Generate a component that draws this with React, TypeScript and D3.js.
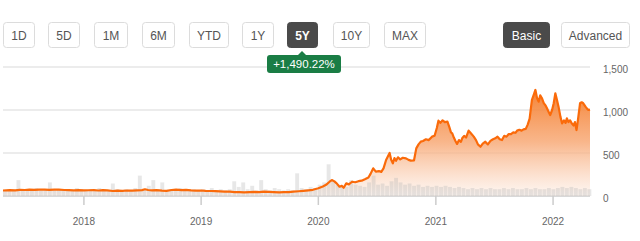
import React from "react";
import * as d3 from "d3";

const rangeButtons = ["1D", "5D", "1M", "6M", "YTD", "1Y", "5Y", "10Y", "MAX"];
const rangeButtonX = [3, 48, 94, 142, 189, 242, 287, 333, 384];
const rangeButtonW = [31, 31, 33, 32, 39, 31, 30, 36, 41];
const activeRange = "5Y";
const modeButtons = ["Basic", "Advanced"];
const modeButtonX = [503, 561];
const modeButtonW = [46, 68];
const activeMode = "Basic";
const changeLabel = "+1,490.22%";

const yTicks = [0, 500, 1000, 1500];
const yTickLabels = ["0", "500", "1,000", "1,500"];
const xTickYears = ["2018", "2019", "2020", "2021", "2022"];

const priceDates = [
  "2017-04-24","2017-05-15","2017-06-01","2017-06-15","2017-07-01","2017-07-15","2017-08-01","2017-08-15","2017-09-01","2017-09-15",
  "2017-10-01","2017-10-15","2017-11-01","2017-11-15","2017-12-01","2017-12-15","2018-01-01","2018-01-15","2018-02-01","2018-02-15",
  "2018-03-01","2018-03-15","2018-04-01","2018-04-15","2018-05-01","2018-05-15","2018-06-01","2018-06-15","2018-07-01","2018-07-10",
  "2018-07-20","2018-08-01","2018-08-15","2018-09-01","2018-09-15","2018-10-01","2018-10-15","2018-11-01","2018-11-15","2018-12-01",
  "2018-12-15","2019-01-01","2019-01-15","2019-02-01","2019-02-15","2019-03-01","2019-03-15","2019-04-01","2019-04-15","2019-05-01",
  "2019-05-15","2019-06-01","2019-06-15","2019-07-01","2019-07-15","2019-08-01","2019-08-15","2019-09-01","2019-09-15","2019-10-01",
  "2019-10-15","2019-11-01","2019-11-15","2019-12-01","2019-12-15","2020-01-01","2020-01-15","2020-01-25","2020-02-05","2020-02-12",
  "2020-02-20","2020-02-27","2020-03-07","2020-03-14","2020-03-20","2020-03-28","2020-04-05","2020-04-15","2020-04-25","2020-05-05",
  "2020-05-15","2020-05-25","2020-06-05","2020-06-12","2020-06-20","2020-06-28","2020-07-08","2020-07-15","2020-07-22","2020-07-30",
  "2020-08-06","2020-08-10","2020-08-15","2020-08-20","2020-08-25","2020-08-30","2020-09-05","2020-09-12","2020-09-20","2020-09-30",
  "2020-10-08","2020-10-15","2020-10-25","2020-11-01","2020-11-08","2020-11-15","2020-11-22","2020-12-01","2020-12-10","2020-12-20",
  "2020-12-28","2021-01-04","2021-01-09","2021-01-15","2021-01-22","2021-01-29","2021-02-06","2021-02-12","2021-02-17","2021-02-21",
  "2021-02-26","2021-03-03","2021-03-08","2021-03-14","2021-03-20","2021-03-24","2021-03-30","2021-04-05","2021-04-13","2021-04-20",
  "2021-04-29","2021-05-06","2021-05-12","2021-05-20","2021-05-27","2021-06-04","2021-06-12","2021-06-20","2021-06-28","2021-07-05",
  "2021-07-12","2021-07-19","2021-07-26","2021-08-02","2021-08-09","2021-08-16","2021-08-23","2021-08-30","2021-09-06","2021-09-11",
  "2021-09-18","2021-09-25","2021-10-01","2021-10-08","2021-10-14","2021-10-20","2021-10-27","2021-11-02","2021-11-07","2021-11-12",
  "2021-11-17","2021-11-22","2021-11-27","2021-12-03","2021-12-09","2021-12-13","2021-12-18","2021-12-23","2021-12-29","2022-01-03",
  "2022-01-08","2022-01-13","2022-01-18","2022-01-24","2022-01-29","2022-02-04","2022-02-09","2022-02-13","2022-02-18","2022-02-23",
  "2022-02-28","2022-03-06","2022-03-10","2022-03-15","2022-03-20","2022-03-26","2022-03-31","2022-04-05","2022-04-12","2022-04-18",
  "2022-04-21","2022-04-26"
];
const priceValues = [
  64,68,66,72,70,74,71,73,75,72,
  74,73,70,68,66,68,65,67,69,64,
  68,66,58,62,60,64,62,66,68,78,
  70,66,68,62,60,70,74,68,72,66,
  62,64,60,58,56,54,52,50,46,44,
  42,45,48,46,50,48,45,42,44,46,
  50,55,60,66,72,90,110,130,166,186,
  170,147,108,118,96,147,135,166,160,172,
  178,194,215,260,322,283,290,280,322,419,
  470,500,420,380,440,410,450,426,445,438,
  420,411,415,554,600,632,640,660,650,690,
  700,790,876,850,880,860,864,800,740,729,
  680,640,605,650,630,671,700,680,760,730,
  690,650,600,573,610,632,600,640,660,671,
  690,660,651,700,690,721,720,740,735,760,
  770,760,775,780,830,900,1116,1180,1233,1140,
  1097,1170,1140,1080,1050,1020,980,942,1000,1078,
  1194,1120,1039,920,845,880,850,903,860,880,
  845,820,860,767,900,1078,1090,1078,1040,1010,
  1000,1005
];

const volumeStart = "2017-04-24";
const volumeValues = [
  5,6,5,14,5,6,5,7,5,6,12,5,6,5,6,5,7,6,
  5,6,5,7,6,5,11,6,5,6,5,7,18,6,9,14,6,12,5,6,5,7,6,5,6,5,
  6,5,7,5,6,5,6,13,8,12,6,9,5,14,6,5,7,6,5,6,5,20,7,6,8,7,
  10,12,28,14,10,9,8,14,10,9,8,12,18,10,11,9,13,16,12,10,11,9,10,8,9,8,
  9,8,9,8,7,8,7,6,7,6,7,6,7,6,6,7,6,7,6,6,7,6,7,6,6,7,
  6,7,8,7,8,7,6,7,6
];

const FONT = "'Liberation Sans', Arial, Helvetica, sans-serif";

export default function App() {
  const parse = d3.timeParse("%Y-%m-%d");
  const dates = priceDates.map((d) => parse(d) as Date);
  const data = dates.map((d, i) => ({ date: d, value: priceValues[i] }));

  const x = d3.scaleTime().domain([dates[0], dates[dates.length - 1]]).range([3, 590]);
  const y = d3.scaleLinear().domain([0, 1500]).range([196, 67]);
  const yVol = d3.scaleLinear().domain([0, 30]).range([196, 162]);

  const line = d3.line<any>().x((d) => x(d.date)).y((d) => y(d.value)).curve(d3.curveLinear);
  const area = d3.area<any>().x((d) => x(d.date)).y0(y(0)).y1((d) => y(d.value)).curve(d3.curveLinear);

  const volStart = parse(volumeStart) as Date;
  const volDates = volumeValues.map((_, i) => d3.timeDay.offset(volStart, i * 14));
  const step = x(volDates[1]) - x(volDates[0]);

  const yearTicks = xTickYears.map((yr) => parse(`${yr}-01-01`) as Date);

  return (
    <svg width={640} height={241} style={{ position: "absolute", left: 0, top: 0, fontFamily: FONT }}>
      <rect x={0} y={0} width={640} height={241} fill="#ffffff" />
      <defs>
        <linearGradient id="areaGrad" gradientUnits="userSpaceOnUse" x1={0} y1={88} x2={0} y2={196}>
          <stop offset="0" stopColor="#f47a26" stopOpacity={0.95} />
          <stop offset="0.5" stopColor="#f7a46e" stopOpacity={0.8} />
          <stop offset="1" stopColor="#fdf1ea" stopOpacity={0.6} />
        </linearGradient>
      </defs>

      {rangeButtons.map((b, i) => {
        const active = b === activeRange;
        return (
          <g key={b}>
            <rect x={rangeButtonX[i] + 0.5} y={22.5} width={rangeButtonW[i]} height={25} rx={3}
              fill={active ? "#4a4a4a" : "#ffffff"} stroke={active ? "#4a4a4a" : "#dcdcdc"} />
            <text x={rangeButtonX[i] + 0.5 + rangeButtonW[i] / 2} y={39.5} textAnchor="middle" fontSize={12}
              fill={active ? "#ffffff" : "#555555"} fontWeight={active ? "bold" : "normal"}>{b}</text>
          </g>
        );
      })}
      {modeButtons.map((b, i) => {
        const active = b === activeMode;
        return (
          <g key={b}>
            <rect x={modeButtonX[i] + 0.5} y={22.5} width={modeButtonW[i]} height={25} rx={3}
              fill={active ? "#4a4a4a" : "#ffffff"} stroke={active ? "#4a4a4a" : "#dcdcdc"} />
            <text x={modeButtonX[i] + 0.5 + modeButtonW[i] / 2} y={39.5} textAnchor="middle" fontSize={12}
              fill={active ? "#ffffff" : "#555555"}>{b}</text>
          </g>
        );
      })}

      {yTicks.map((t, i) => (
        <g key={t}>
          <line x1={3} x2={590} y1={y(t)} y2={y(t)} stroke={t === 0 ? "#d8d8d8" : "#e6e6e6"} strokeWidth={t === 0 ? 2 : 1.5} />
          <text x={603} y={y(t) + 3} dominantBaseline="middle" fontSize={10} fill="#666666">{yTickLabels[i]}</text>
        </g>
      ))}

      <path d="M298,55 L302,51 L306,55 Z" fill="#1a7d45" />
      <rect x={267} y={55} width={74} height={18} rx={3} fill="#1a7d45" />
      <text x={304} y={68} textAnchor="middle" fontSize={11.5} fill="#ffffff">{changeLabel}</text>

      <path d={area(data) || ""} fill="url(#areaGrad)" />
      {volumeValues.map((v, i) => (
        <rect key={i} x={x(volDates[i])} y={yVol(v)} width={Math.max(step - 0.6, 1)} height={196 - yVol(v)}
          fill="#b0b0b0" opacity={0.3} />
      ))}
      <path d={line(data) || ""} fill="none" stroke="#fa6a0a" strokeWidth={2.2} strokeLinejoin="round" />

      {yearTicks.map((d, i) => (
        <g key={i}>
          <line x1={x(d)} x2={x(d)} y1={196} y2={205} stroke="#cccccc" strokeWidth={1.5} />
          <text x={x(d)} y={225} textAnchor="middle" fontSize={10} fill="#666666">{xTickYears[i]}</text>
        </g>
      ))}
    </svg>
  );
}
